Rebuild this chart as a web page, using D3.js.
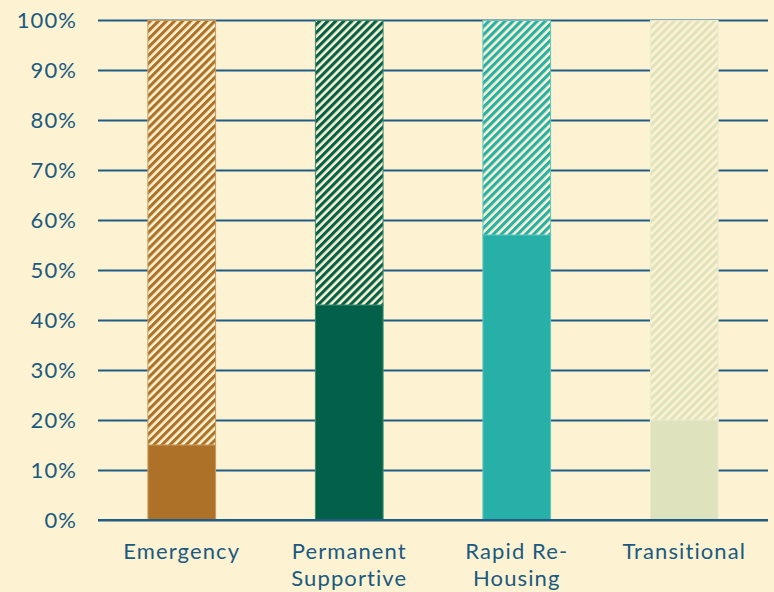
<!DOCTYPE html>
<html>
<head>
<meta charset="utf-8">
<script src="https://cdn.jsdelivr.net/npm/d3@7"></script>
<style>
  html, body { margin: 0; padding: 0; background: #fdf3d3; }
  svg { display: block; }
  text { font-family: Lato, "Open Sans", sans-serif; fill: #1b5a80; letter-spacing: 1.1px; }
</style>
</head>
<body>
<svg id="chart" width="774" height="592"></svg>
<script>
// Program types and the share (%) shown as the solid portion of each bar
const categories = ["Emergency", "Permanent Supportive", "Rapid Re-Housing", "Transitional"];
const labelLines = [["Emergency"], ["Permanent", "Supportive"], ["Rapid Re-", "Housing"], ["Transitional"]];
const solidValues = [15, 43, 57, 20];
const totalValues = [100, 100, 100, 100];
const barColors = ["#ae7128", "#03614a", "#26b0a8", "#dfe3bd"];
const edgeColors = ["#c99a5c", "#3f8a73", "#5fc6bf", "#e9ebcf"];
const yTicks = [0, 10, 20, 30, 40, 50, 60, 70, 80, 90, 100];

const bg = "#fdf3d3";
const gridColor = "#1f5c86";

const svg = d3.select("#chart");
const margin = { top: 20, right: 6, bottom: 72, left: 98 };
const width = 774, height = 592;

const x = d3.scaleBand()
  .domain(categories)
  .range([margin.left, width - margin.right])
  .paddingInner(0.59)
  .paddingOuter(0.295);

const y = d3.scaleLinear()
  .domain([0, 100])
  .range([height - margin.bottom, margin.top]);

// Diagonal stripe patterns, one per bar colour
const defs = svg.append("defs");
barColors.forEach((c, i) => {
  const p = defs.append("pattern")
    .attr("id", "hatch" + i)
    .attr("patternUnits", "userSpaceOnUse")
    .attr("width", 5.7)
    .attr("height", 5.7)
    .attr("patternTransform", "rotate(45)");
  p.append("rect").attr("width", 5.7).attr("height", 5.7).attr("fill", bg);
  p.append("rect").attr("width", 3.1).attr("height", 5.7).attr("fill", c);
});

// Gridlines
const yAxis = d3.axisLeft(y)
  .tickValues(yTicks)
  .tickSize(-(width - margin.right - margin.left))
  .tickFormat(d => d + "%");

const gy = svg.append("g")
  .attr("transform", `translate(${margin.left},0)`)
  .call(yAxis);
gy.select(".domain").remove();
gy.selectAll(".tick line")
  .attr("stroke", gridColor)
  .attr("stroke-width", 2);
gy.selectAll(".tick text")
  .attr("x", -21)
  .attr("dy", "0.36em")
  .style("font-size", "22px")
  .attr("fill", "#1b5a80");

// Hatched remainder from the solid value up to the total
svg.append("g").selectAll("rect.rest")
  .data(categories)
  .join("rect")
  .attr("class", "rest")
  .attr("x", d => x(d) + 0.5)
  .attr("width", x.bandwidth() - 1)
  .attr("y", (d, i) => y(totalValues[i]) + 0.5)
  .attr("height", (d, i) => y(solidValues[i]) - y(totalValues[i]))
  .attr("fill", (d, i) => `url(#hatch${i})`)
  .attr("stroke", (d, i) => edgeColors[i])
  .attr("stroke-width", 1);

// Solid portion
svg.append("g").selectAll("rect.solid")
  .data(categories)
  .join("rect")
  .attr("class", "solid")
  .attr("x", d => x(d) + 0.5)
  .attr("width", x.bandwidth() - 1)
  .attr("y", (d, i) => y(solidValues[i]))
  .attr("height", (d, i) => y(0) - y(solidValues[i]) - 0.5)
  .attr("fill", (d, i) => barColors[i])
  .attr("stroke", (d, i) => edgeColors[i])
  .attr("stroke-width", 1);

// Baseline
svg.append("line")
  .attr("x1", margin.left).attr("x2", width - margin.right)
  .attr("y1", y(0)).attr("y2", y(0))
  .attr("stroke", gridColor).attr("stroke-width", 2);

// Category labels
const gx = svg.append("g");
categories.forEach((c, i) => {
  const t = gx.append("text")
    .attr("x", x(c) + x.bandwidth() / 2)
    .attr("y", 559)
    .attr("text-anchor", "middle")
    .style("font-size", "22px");
  labelLines[i].forEach((line, j) => {
    t.append("tspan")
      .attr("x", x(c) + x.bandwidth() / 2)
      .attr("dy", j === 0 ? 0 : 26.5)
      .text(line);
  });
});
</script>
</body>
</html>
